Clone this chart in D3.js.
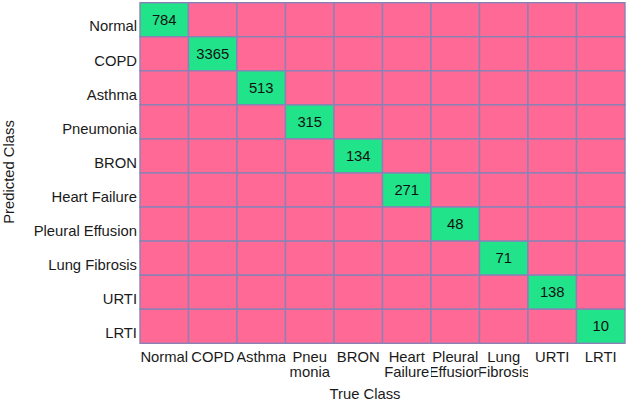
<!DOCTYPE html>
<html>
<head>
<meta charset="utf-8">
<script src="https://cdn.jsdelivr.net/npm/d3@7"></script>
<style>
  html, body { margin: 0; padding: 0; background: #ffffff; }
  svg { display: block; }
  text { font-family: "Liberation Sans", Arial, sans-serif; }
</style>
</head>
<body>
<svg id="chart" width="628" height="402"></svg>
<script>
// ---- data ----
const predictedClasses = ["Normal", "COPD", "Asthma", "Pneumonia", "BRON", "Heart Failure", "Pleural Effusion", "Lung Fibrosis", "URTI", "LRTI"];
const trueClasses = ["Normal", "COPD", "Asthma", "Pneumonia", "BRON", "Heart Failure", "Pleural Effusion", "Lung Fibrosis", "URTI", "LRTI"];
const trueTickLines = [["Normal"], ["COPD"], ["Asthma"], ["Pneu", "monia"], ["BRON"], ["Heart", "Failure"], ["Pleural", "Effusion"], ["Lung", "Fibrosis"], ["URTI"], ["LRTI"]];
const correctCounts = [784, 3365, 513, 315, 134, 271, 48, 71, 138, 10];
const xTitle = "True Class";
const yTitle = "Predicted Class";

// ---- layout ----
const svg = d3.select("#chart");
const margin = { left: 140, right: 3, top: 2.7, bottom: 58.7 };
const W = 628, H = 402;
const fontSize = 14.8;

const x = d3.scaleBand().domain(trueClasses).range([margin.left, W - margin.right]).padding(0);
const y = d3.scaleBand().domain(predictedClasses).range([margin.top, H - margin.bottom]).padding(0);

const colorScale = d3.scaleOrdinal().domain(["hit", "miss"]).range(["#21E38A", "#FE6A95"]);
const gridColor = "#8A82B6";

// build matrix cells (off-diagonal counts are 0)
const cells = [];
predictedClasses.forEach((p, i) => {
  trueClasses.forEach((t, j) => {
    cells.push({ pred: p, truth: t, value: i === j ? correctCounts[i] : 0 });
  });
});

// cells
svg.append("g").selectAll("rect").data(cells).join("rect")
  .attr("x", d => x(d.truth))
  .attr("y", d => y(d.pred))
  .attr("width", x.bandwidth())
  .attr("height", y.bandwidth())
  .attr("fill", d => colorScale(d.value > 0 ? "hit" : "miss"))
  .attr("stroke", gridColor)
  .attr("stroke-width", 1.4);

// cell values
svg.append("g").selectAll("text").data(cells.filter(d => d.value > 0)).join("text")
  .attr("x", d => x(d.truth) + x.bandwidth() / 2)
  .attr("y", d => y(d.pred) + y.bandwidth() / 2)
  .attr("text-anchor", "middle")
  .attr("dominant-baseline", "central")
  .attr("font-size", fontSize)
  .attr("fill", "#111")
  .text(d => d.value);

// y axis (predicted)
const yAxis = d3.axisLeft(y).tickSize(0).tickPadding(3);
const gy = svg.append("g").attr("transform", `translate(${margin.left},7)`).call(yAxis);
gy.select(".domain").remove();
gy.selectAll("text").attr("font-size", fontSize).attr("fill", "#1a1a1a")
  .style("font-family", '"Liberation Sans", Arial, sans-serif');

// x axis (true) with multi-line labels clipped to their column
const defs = svg.append("defs");
trueClasses.forEach((c, i) => {
  defs.append("clipPath").attr("id", "clipx" + i)
    .append("rect")
    .attr("x", x(c) - (i === 0 ? 6 : 0)).attr("y", H - margin.bottom)
    .attr("width", x.bandwidth() + (i === 0 ? 6 : 0)).attr("height", 40);
});
const xAxis = d3.axisBottom(x).tickSize(0).tickFormat(() => "");
const gx = svg.append("g").attr("transform", `translate(0,${H - margin.bottom})`).call(xAxis);
gx.select(".domain").remove();
const labelG = svg.append("g");
trueClasses.forEach((c, i) => {
  const t = labelG.append("text")
    .attr("x", x(c) + x.bandwidth() / 2)
    .attr("y", H - margin.bottom + 18.5)
    .attr("text-anchor", "middle")
    .attr("font-size", fontSize)
    .attr("fill", "#1a1a1a")
    .attr("clip-path", `url(#clipx${i})`);
  trueTickLines[i].forEach((line, k) => {
    t.append("tspan").attr("x", x(c) + x.bandwidth() / 2).attr("dy", k === 0 ? 0 : 15.5).text(line);
  });
});

// axis titles
svg.append("text")
  .attr("x", 365)
  .attr("y", 399)
  .attr("text-anchor", "middle")
  .attr("font-size", fontSize)
  .attr("fill", "#1a1a1a")
  .text(xTitle);

svg.append("text")
  .attr("transform", `translate(14,172) rotate(-90)`)
  .attr("text-anchor", "middle")
  .attr("font-size", fontSize)
  .attr("fill", "#1a1a1a")
  .text(yTitle);
</script>
</body>
</html>
